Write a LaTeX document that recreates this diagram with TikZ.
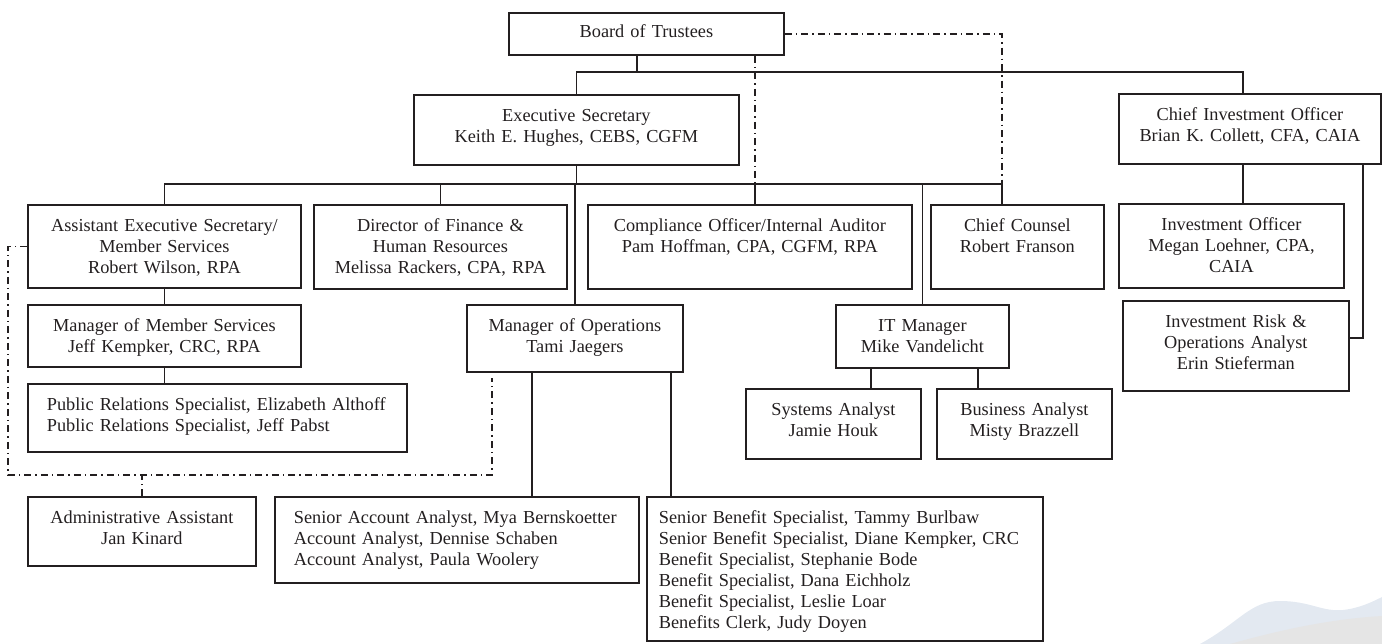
\documentclass[tikz,border=0pt]{standalone}
\usepackage{fontspec}
\setmainfont{Liberation Serif}
\definecolor{ink}{HTML}{231F20}
\definecolor{waveblue}{HTML}{E3E9F1}
\definecolor{wavegray}{HTML}{E5E5E5}
\begin{document}
\begin{tikzpicture}[x=1pt,y=-1pt,
	font=\fontsize{18.3}{21}\selectfont,
	box/.style={draw=ink,line width=1.8pt,text=ink,anchor=north west,inner xsep=0pt,inner ysep=0pt,align=center,text height=27pt},
	lbox/.style={box,align=left,inner xsep=19pt},
	link/.style={ink,line width=1.8pt},
	dotlink/.style={ink,line width=1.5pt,dash pattern=on 7pt off 4pt on 1.5pt off 4pt}]
	\useasboundingbox (0,0) rectangle (1382,644);
	\fill[waveblue] (1200,644) .. controls (1240,622) and (1250,601) .. (1280,601) .. controls (1310,601) and (1322,612) .. (1343,610) .. controls (1360,608) and (1372,602) .. (1382,597) -- (1382,644) -- cycle;
	\fill[wavegray] (1230,644) .. controls (1280,630) and (1330,619) .. (1382,616) -- (1382,644) -- cycle;
	\node[box,text width=275pt,text height=25pt,text depth=17pt] (board) at (508,12) {Board of Trustees};
	\node[box,text width=325pt,text depth=43pt] (exec) at (413,94) {Executive Secretary\\Keith E. Hughes, CEBS, CGFM};
	\node[box,text width=262pt,text depth=43pt] (cio) at (1118,93) {Chief Investment Officer\\Brian K. Collett, CFA, CAIA};
	\node[box,text width=273pt,text depth=56pt] (asst) at (27,204) {Assistant Executive Secretary/\\Member Services\\Robert Wilson, RPA};
	\node[box,text width=253pt,text depth=57pt] (dir) at (313,204) {Director of Finance \&\\Human Resources\\Melissa Rackers, CPA, RPA};
	\node[box,text width=324pt,text depth=57pt] (comp) at (587,204) {Compliance Officer/Internal Auditor\\Pam Hoffman, CPA, CGFM, RPA};
	\node[box,text width=173pt,text depth=57pt] (cc) at (930,204) {Chief Counsel\\Robert Franson};
	\node[box,text width=225pt,text depth=57pt] (invo) at (1118,203) {Investment Officer\\Megan Loehner, CPA,\\CAIA};
	\node[box,text width=273pt,text depth=35pt] (mms) at (27,304) {Manager of Member Services\\Jeff Kempker, CRC, RPA};
	\node[box,text width=216pt,text depth=40pt] (ops) at (466,304) {Manager of Operations\\Tami Jaegers};
	\node[box,text width=173pt,text depth=36pt] (it) at (835,304) {IT Manager\\Mike Vandelicht};
	\node[box,text width=226pt,text depth=63pt] (risk) at (1122,300) {Investment Risk \&\\Operations Analyst\\Erin Stieferman};
	\node[lbox,text width=341pt,text depth=41pt] (pr) at (27,383) {Public Relations Specialist, Elizabeth Althoff\\Public Relations Specialist, Jeff Pabst};
	\node[box,text width=175pt,text depth=43pt] (sys) at (745,388) {Systems Analyst\\Jamie Houk};
	\node[box,text width=175pt,text depth=43pt] (biz) at (936,388) {Business Analyst\\Misty Brazzell};
	\node[box,text width=228pt,text depth=42pt] (admin) at (27,496) {Administrative Assistant\\Jan Kinard};
	\node[lbox,text width=326pt,text depth=59pt] (sacct) at (274,496) {Senior Account Analyst, Mya Bernskoetter\\Account Analyst, Dennise Schaben\\Account Analyst, Paula Woolery};
	\node[lbox,inner xsep=12pt,text width=372pt,text depth=117pt] (sben) at (646,496) {Senior Benefit Specialist, Tammy Burlbaw\\Senior Benefit Specialist, Diane Kempker, CRC\\Benefit Specialist, Stephanie Bode\\Benefit Specialist, Dana Eichholz\\Benefit Specialist, Leslie Loar\\Benefits Clerk, Judy Doyen};
	\coordinate (bus1) at (637,72);
	\coordinate (aud) at (755,184);
	\coordinate (law) at (1002,184);
	\coordinate (loopcorner) at (8,475);
	\coordinate (loopend) at (492,378);
	\draw[link] (board.south -| bus1) -- (bus1);
	\draw[link] (exec.north) |- (bus1) -| ([xshift=-7pt]cio.north);
	\draw[link] (exec.south) -- (exec.south |- law);
	\draw[link] (asst.north) |- (law) -- (law |- cc.north);
	\draw[link] (dir.north) -- (dir.north |- law);
	\draw[link] (ops.north) -- (ops.north |- law);
	\draw[link] (aud) -- (aud |- comp.north);
	\draw[link] (it.north) -- (it.north |- law);
	\draw[link] (asst.south) -- (mms.north);
	\draw[link] (mms.south) -- (mms.south |- pr.north);
	\draw[link] ([xshift=-43pt]ops.south) -- ([xshift=-43pt]ops.south |- sacct.north);
	\draw[link] ([xshift=96pt]ops.south) -- ([xshift=96pt]ops.south |- sben.north);
	\draw[link] ([xshift=-51.5pt]it.south) -- ([xshift=-51.5pt]it.south |- sys.north);
	\draw[link] ([xshift=55.5pt]it.south) -- ([xshift=55.5pt]it.south |- biz.north);
	\draw[link] ([xshift=-7pt]cio.south) -- ([xshift=-7pt]cio.south |- invo.north);
	\draw[link] ([xshift=113pt]cio.south) |- ([yshift=8pt]risk.east);
	\draw[dotlink] (board.east) -| (law);
	\draw[dotlink] (board.south -| aud) -- (aud);
	\draw[dotlink] (asst.west) -| (loopcorner) -| (loopend);
	\draw[dotlink] (admin.north) -- (admin.north |- loopcorner);
\end{tikzpicture}
\end{document}
